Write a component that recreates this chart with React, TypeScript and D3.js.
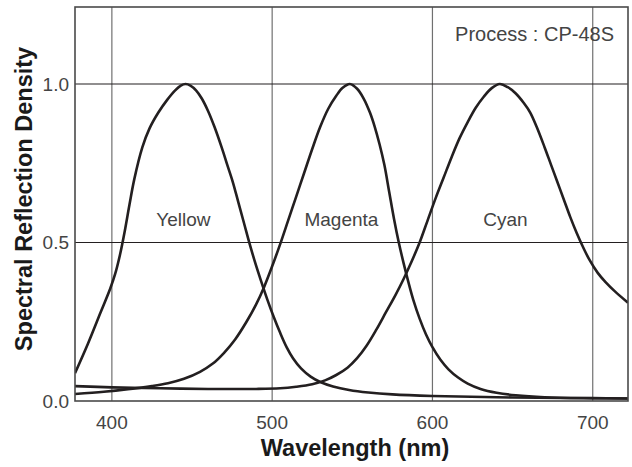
import React from 'react';
import * as d3 from 'd3';

// spectral reflection density curves, [wavelength nm, density]
const yellow = [
  [377, 0.088], [385, 0.18], [393, 0.28], [399, 0.355], [402, 0.4], [405, 0.46],
  [408, 0.535], [411, 0.62], [414, 0.7], [419, 0.8], [423.5, 0.86], [429, 0.91],
  [434.5, 0.95], [439.5, 0.98], [443, 0.995], [446, 1.0], [449, 0.995], [452.5, 0.98],
  [456, 0.955], [460, 0.915], [464, 0.865], [468.5, 0.8], [472, 0.745], [475.5, 0.69],
  [479, 0.625], [482.5, 0.56], [486, 0.495], [489.5, 0.435], [493, 0.38], [497, 0.32],
  [501, 0.265], [505, 0.215], [509, 0.17], [513, 0.135], [518, 0.103], [524, 0.077],
  [530, 0.06], [538, 0.046], [548, 0.035], [560, 0.027], [575, 0.021], [600, 0.016],
  [650, 0.011], [722, 0.008],
];
const magenta = [
  [377, 0.022], [395, 0.029], [410, 0.037], [425, 0.047], [435, 0.056], [445, 0.07],
  [455, 0.092], [463, 0.118], [470, 0.152], [477, 0.195], [484, 0.25], [490, 0.305],
  [495, 0.36], [500, 0.425], [505, 0.495], [510, 0.57], [515, 0.645], [520, 0.72],
  [525, 0.795], [530, 0.865], [535, 0.922], [540, 0.963], [544, 0.988], [548.5, 1.0],
  [553, 0.985], [557, 0.955], [561, 0.91], [564, 0.865], [567, 0.81], [570, 0.745],
  [573, 0.66], [576, 0.575], [579, 0.5], [582, 0.435], [585, 0.375], [588, 0.32],
  [592, 0.26], [596, 0.21], [600, 0.17], [605, 0.13], [610, 0.1], [616, 0.074],
  [622, 0.055], [630, 0.038], [640, 0.026], [652, 0.018], [670, 0.012], [700, 0.009],
  [722, 0.008],
];
const cyan = [
  [377, 0.047], [400, 0.043], [430, 0.04], [460, 0.038], [490, 0.038], [505, 0.04],
  [515, 0.045], [525, 0.053], [533, 0.065], [540, 0.082], [547, 0.105], [553, 0.135],
  [559, 0.175], [565, 0.225], [571, 0.28], [577, 0.335], [582, 0.385], [587, 0.44],
  [592, 0.5], [597, 0.57], [602, 0.64], [607, 0.705], [612, 0.77], [617, 0.83],
  [622, 0.88], [627, 0.925], [632, 0.96], [637, 0.987], [642, 1.0], [647, 0.99],
  [652, 0.97], [657, 0.94], [661, 0.91], [665, 0.865], [670, 0.8], [674, 0.745],
  [678, 0.69], [682, 0.635], [686, 0.58], [690, 0.53], [694, 0.485], [698, 0.445],
  [703, 0.405], [708, 0.375], [714, 0.345], [722, 0.31],
];

const series = [
  {name: 'Yellow', points: yellow, labelNm: 444.6},
  {name: 'Magenta', points: magenta, labelNm: 543.2},
  {name: 'Cyan', points: cyan, labelNm: 645.5},
];

const xTicks = [400, 500, 600, 700];
const yTicks = [0, 0.5, 1.0];

const W = 632;
const H = 467;
const margin = {top: 7, right: 4, bottom: 66, left: 75};

export default function App() {
  const x = d3.scaleLinear().domain([377, 722]).range([margin.left, W - margin.right]);
  const y = d3.scaleLinear().domain([0, 1.243]).range([H - margin.bottom, margin.top]);

  const line = d3
    .line<number[]>()
    .x(d => x(d[0]))
    .y(d => y(d[1]))
    .curve(d3.curveCatmullRom.alpha(0.5));

  const font = '"Liberation Sans", Arial, Helvetica, sans-serif';
  const [x0, x1] = x.range();
  const [yb, yt] = y.range();
  const txt = '#444';

  return (
    <svg
      width={W}
      height={H}
      style={{position: 'absolute', left: 0, top: 0, background: '#fff'}}
      fontFamily={font}
    >
      <rect width={W} height={H} fill="#fff" />

      {/* vertical grid */}
      {xTicks.map(t => (
        <line key={t} x1={x(t)} x2={x(t)} y1={yt} y2={yb} stroke="#707070" strokeWidth={1.2} />
      ))}
      {/* horizontal grid */}
      {yTicks.filter(t => t > 0).map(t => (
        <line key={t} x1={x0} x2={x1} y1={y(t)} y2={y(t)} stroke="#231f20" strokeWidth={1.1} />
      ))}

      <clipPath id="plot">
        <rect x={x0} y={yt} width={x1 - x0} height={yb - yt} />
      </clipPath>
      <g clipPath="url(#plot)">
        {series.map(s => (
          <path key={s.name} d={line(s.points) || ''} fill="none" stroke="#231f20" strokeWidth={2.6} />
        ))}
      </g>

      {/* frame */}
      <rect x={x0} y={yt} width={x1 - x0} height={yb - yt} fill="none" stroke="#4a4a4a" strokeWidth={1.6} />

      {series.map(s => (
        <text key={s.name} x={x(s.labelNm)} y={226} textAnchor="middle" fontSize={19} fill={txt}>
          {s.name}
        </text>
      ))}

      <text x={614} y={41} textAnchor="end" fontSize={20} fill={txt}>
        Process : CP-48S
      </text>

      {/* y tick labels */}
      {yTicks.map(t => (
        <text
          key={t}
          x={x0 - 6}
          y={y(t)}
          dy="0.36em"
          textAnchor="end"
          fontSize={19}
          fill={txt}
        >
          {d3.format('.1f')(t)}
        </text>
      ))}
      {/* x tick labels */}
      {xTicks.map(t => (
        <text key={t} x={x(t)} y={429} textAnchor="middle" fontSize={19} fill={txt}>
          {t}
        </text>
      ))}

      <text x={355} y={456} textAnchor="middle" fontSize={23.5} fontWeight="bold" fill="#1a1a1a">
        Wavelength (nm)
      </text>
      <text
        transform={`translate(32, 199) rotate(-90)`}
        textAnchor="middle"
        fontSize={23.5}
        fontWeight="bold"
        fill="#1a1a1a"
      >
        Spectral Reflection Density
      </text>
    </svg>
  );
}
